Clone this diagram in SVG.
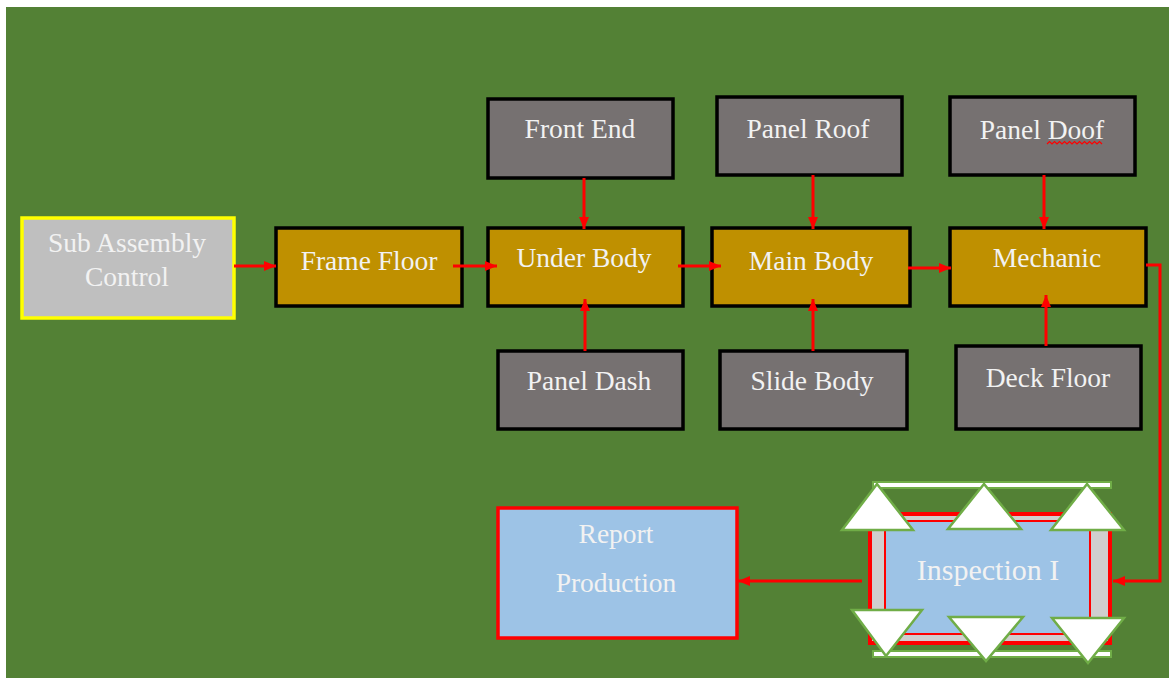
<svg xmlns="http://www.w3.org/2000/svg" width="1169" height="678" viewBox="0 0 1169 678">
  <defs>
    <marker id="arrow" markerUnits="userSpaceOnUse" markerWidth="12" markerHeight="12" viewBox="0 0 12 12" refX="12" refY="6" orient="auto">
      <path d="M0,1 L12,6 L0,11 Z" fill="#ff0000"/>
    </marker>
    <style>
      .box { stroke: #000; stroke-width: 3.5; }
      .gold { fill: #bf9000; }
      .grey { fill: #767171; }
      .lbl { font-size: 27.5px; fill: #f2f2f2; text-anchor: middle; }
      .big { font-size: 30px; }
      .link { stroke: #ff0000; stroke-width: 3; fill: none; }
      .tri { fill: #ffffff; stroke: #70ad47; stroke-width: 2.5; stroke-linejoin: miter; }
    </style>
  </defs>

  <!-- canvas -->
  <rect x="0" y="0" width="1169" height="678" fill="#ffffff"/>
  <rect x="6" y="7" width="1163" height="671" fill="#538135"/>

  <g font-family="'Liberation Serif', 'DejaVu Serif', 'Times New Roman', serif">
  <!-- Sub Assembly Control -->
  <g id="sub-assembly-control">
    <rect x="22" y="218" width="212" height="100" fill="#bfbfbf" stroke="#ffff00" stroke-width="3.5"/>
    <text class="lbl" x="127" y="252">Sub Assembly</text>
    <text class="lbl" x="127" y="286">Control</text>
  </g>

  <!-- main line -->
  <g id="frame-floor">
    <rect class="box gold" x="276" y="228" width="186" height="78"/>
    <text class="lbl" x="369" y="270">Frame Floor</text>
  </g>
  <g id="under-body">
    <rect class="box gold" x="488" y="228" width="195" height="78"/>
    <text class="lbl" x="584" y="267">Under Body</text>
  </g>
  <g id="main-body">
    <rect class="box gold" x="712" y="228" width="198" height="78"/>
    <text class="lbl" x="811" y="270">Main Body</text>
  </g>
  <g id="mechanic">
    <rect class="box gold" x="950" y="228" width="196" height="78"/>
    <text class="lbl" x="1047" y="267">Mechanic</text>
  </g>

  <!-- feeders above -->
  <g id="front-end">
    <rect class="box grey" x="488" y="99" width="185" height="79"/>
    <text class="lbl" x="580" y="138">Front End</text>
  </g>
  <g id="panel-roof">
    <rect class="box grey" x="717" y="97" width="185" height="78"/>
    <text class="lbl" x="808" y="138">Panel Roof</text>
  </g>
  <g id="panel-doof">
    <rect class="box grey" x="950" y="97" width="185" height="78"/>
    <text class="lbl" x="1042" y="139">Panel Doof</text>
    <path d="M1047,144 l2.5,-2.5 l2.5,2.5 l2.5,-2.5 l2.5,2.5 l2.5,-2.5 l2.5,2.5 l2.5,-2.5 l2.5,2.5 l2.5,-2.5 l2.5,2.5 l2.5,-2.5 l2.5,2.5 l2.5,-2.5 l2.5,2.5 l2.5,-2.5 l2.5,2.5 l2.5,-2.5 l2.5,2.5 l2.5,-2.5 l2.5,2.5 l2.5,-2.5 l2.5,2.5" fill="none" stroke="#ff0000" stroke-width="1.2"/>
  </g>

  <!-- feeders below -->
  <g id="panel-dash">
    <rect class="box grey" x="498" y="351" width="185" height="78"/>
    <text class="lbl" x="589" y="390">Panel Dash</text>
  </g>
  <g id="slide-body">
    <rect class="box grey" x="720" y="351" width="187" height="78"/>
    <text class="lbl" x="812" y="390">Slide Body</text>
  </g>
  <g id="deck-floor">
    <rect class="box grey" x="956" y="346" width="185" height="83"/>
    <text class="lbl" x="1048" y="387">Deck Floor</text>
  </g>

  <!-- Report Production -->
  <g id="report-production">
    <rect x="498" y="508" width="239" height="130" fill="#9dc3e6" stroke="#ff0000" stroke-width="3.5"/>
    <text class="lbl" x="616" y="543">Report</text>
    <text class="lbl" x="616" y="592">Production</text>
  </g>

  <!-- Inspection I -->
  <g id="inspection-i">
    <rect x="873" y="482" width="238" height="6" fill="#ffffff" stroke="#70ad47" stroke-width="2"/>
    <rect x="873" y="651" width="238" height="6" fill="#ffffff" stroke="#70ad47" stroke-width="2"/>
    <rect x="870" y="514" width="240" height="129" fill="#d0cece" stroke="#ff0000" stroke-width="4"/>
    <rect x="885" y="521" width="205" height="113" fill="#9dc3e6" stroke="#ff0000" stroke-width="2"/>
    <polygon class="tri" points="877,484 842,530 913,530"/>
    <polygon class="tri" points="984,484 948,529 1021,529"/>
    <polygon class="tri" points="1087,484 1051,530 1124,530"/>
    <polygon class="tri" points="852,610 922,610 886,656"/>
    <polygon class="tri" points="949,617 1023,617 986,661"/>
    <polygon class="tri" points="1052,618 1124,618 1088,663"/>
    <text class="lbl big" x="988" y="580">Inspection I</text>
  </g>
  </g>

  <!-- connectors, drawn over the boxes -->
  <g id="connectors">
    <line class="link" x1="234" y1="266" x2="276" y2="266" marker-end="url(#arrow)"/>
    <line class="link" x1="453" y1="266" x2="497" y2="266" marker-end="url(#arrow)"/>
    <line class="link" x1="678" y1="266" x2="721" y2="266" marker-end="url(#arrow)"/>
    <line class="link" x1="908" y1="268" x2="951" y2="268" marker-end="url(#arrow)"/>
    <line class="link" x1="584" y1="178" x2="584" y2="229" marker-end="url(#arrow)"/>
    <line class="link" x1="813" y1="175" x2="813" y2="229" marker-end="url(#arrow)"/>
    <line class="link" x1="1044" y1="175" x2="1044" y2="229" marker-end="url(#arrow)"/>
    <line class="link" x1="585" y1="351" x2="585" y2="299" marker-end="url(#arrow)"/>
    <line class="link" x1="813" y1="351" x2="813" y2="299" marker-end="url(#arrow)"/>
    <line class="link" x1="1046" y1="346" x2="1046" y2="295" marker-end="url(#arrow)"/>
    <polyline class="link" points="1146,265 1160,265 1160,581 1113,581" marker-end="url(#arrow)"/>
    <line class="link" x1="862" y1="581" x2="738" y2="581" marker-end="url(#arrow)"/>
  </g>
</svg>
